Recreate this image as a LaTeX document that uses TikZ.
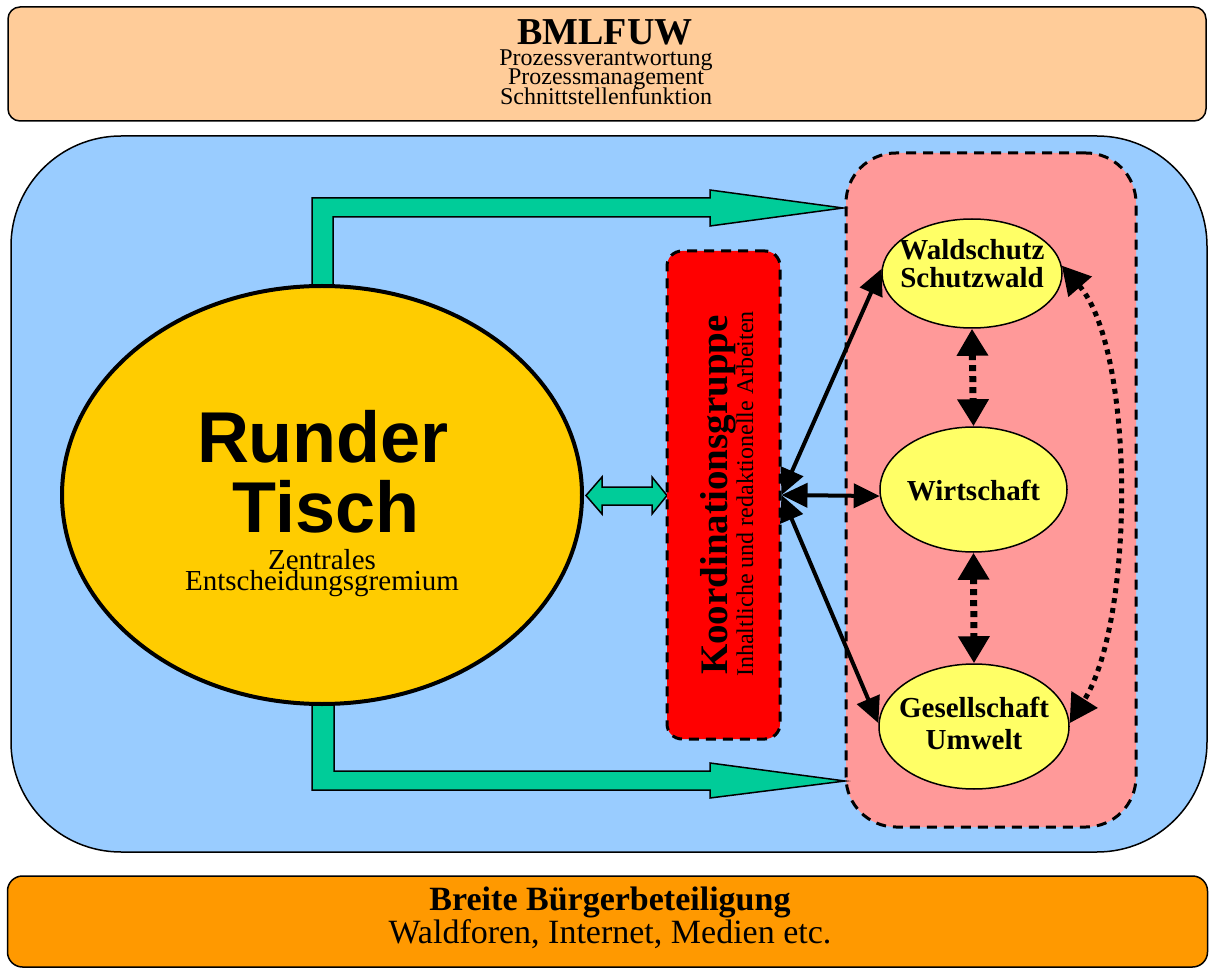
\documentclass[tikz,border=0pt]{standalone}
\usepackage{fontspec}
\setmainfont{Liberation Serif}
\newfontfamily\arialfont{Liberation Sans}
\usetikzlibrary{arrows.meta,shapes.geometric}
\definecolor{peach}{HTML}{FFCC99}
\definecolor{skyblue}{HTML}{99CCFF}
\definecolor{gold}{HTML}{FFCC00}
\definecolor{mint}{HTML}{00CC99}
\definecolor{kgred}{HTML}{FF0000}
\definecolor{rose}{HTML}{FF9999}
\definecolor{lightyellow}{HTML}{FFFF66}
\definecolor{orangebox}{HTML}{FF9900}
\begin{document}
\begin{tikzpicture}[x=1pt,y=-1pt,
  box/.style={draw=black, line width=1.5pt, rectangle, inner sep=0pt},
  dashbox/.style={draw=black, line width=3pt, dash pattern=on 10pt off 7pt, rectangle, inner sep=0pt},
  txt/.style={anchor=base, inner sep=0pt},
  ell/.style={ellipse, draw=black, line width=1.5pt, fill=lightyellow, inner sep=0pt},
  elltxt/.style={anchor=base, inner sep=0pt, font=\fontsize{29pt}{29pt}\selectfont\bfseries},
  blockarrow/.style={draw=black, line width=1.5pt, fill=mint, line join=miter},
  blk/.style={line width=4pt, >={Triangle[length=26pt,width=24pt]}, <->},
  dotarrow/.style={line width=7pt, dash pattern=on 6pt off 5pt, >={Triangle[length=27pt,width=30pt]}, <->},
  curvarrow/.style={line width=5pt, dash pattern=on 5pt off 5pt, >={Triangle[length=28pt,width=30pt]}, <->}
]
\useasboundingbox (0,0) rectangle (1211,968);

% top box
\node[box, rounded corners=12pt, fill=peach, minimum width=1198pt, minimum height=114pt] (bml) at (607,64) {};
\node[txt, font=\fontsize{38pt}{38pt}\selectfont\bfseries] (bmltitle) at (605,45) {BMLFUW};
\node[txt, font=\fontsize{24pt}{24pt}\selectfont] (bml1) at (606,66) {Prozessverantwortung};
\node[txt, font=\fontsize{24pt}{24pt}\selectfont] (bml2) at (606,85) {Prozessmanagement};
\node[txt, font=\fontsize{24pt}{24pt}\selectfont] (bml3) at (606,105) {Schnittstellenfunktion};

% main blue area
\node[box, rounded corners=110pt, fill=skyblue, minimum width=1196pt, minimum height=716pt] (main) at (609,494) {};

% pink group
\node[dashbox, rounded corners=50pt, fill=rose, minimum width=290pt, minimum height=674pt] (grp) at (991,490) {};

% green L arrows
\draw[blockarrow] (312,330) -- (312,198) -- (710,198) -- (710,190) -- (843,208)
  -- (710,226) -- (710,217) -- (333,217) -- (333,330) -- cycle;
\draw[blockarrow] (312,660) -- (312,790) -- (710,790) -- (710,798) -- (845,781)
  -- (710,763) -- (710,771) -- (334,771) -- (334,660) -- cycle;

% Runder Tisch
\node[ellipse, draw=black, line width=4pt, fill=gold, minimum width=520pt, minimum height=418pt, inner sep=0pt] (rt) at (322,495) {};
\node[txt, font=\fontsize{72pt}{72pt}\selectfont\arialfont\bfseries] (rt1) at (323,462) {Runder};
\node[txt, font=\fontsize{72pt}{72pt}\selectfont\arialfont\bfseries] (rt2) at (326,532) {Tisch};
\node[txt, font=\fontsize{29pt}{29pt}\selectfont] (rt3) at (322,569) {Zentrales};
\node[txt, font=\fontsize{29pt}{29pt}\selectfont] (rt4) at (322,590) {Entscheidungsgremium};

% small double arrow
\draw[blockarrow] (586,495.5) -- (602,477) -- (602,487) -- (652,487) -- (652,477) -- (667,495.5)
  -- (652,514) -- (652,505) -- (602,505) -- (602,514) -- cycle;

% Koordinationsgruppe
\node[dashbox, rounded corners=15pt, fill=kgred, minimum width=113pt, minimum height=488pt] (kg) at (723.5,495) {};
\node[txt, rotate=90, font=\fontsize{39pt}{39pt}\selectfont\bfseries] (kg1) at (727,495) {Koordinationsgruppe};
\node[txt, rotate=90, font=\fontsize{24pt}{24pt}\selectfont] (kg2) at (753,494) {Inhaltliche und redaktionelle Arbeiten};

% yellow ellipses
\node[ell, minimum width=180pt, minimum height=109pt] (ws) at (972,273.5) {};
\node[elltxt] (ws1) at (972,260) {Waldschutz};
\node[elltxt] (ws2) at (972,288) {Schutzwald};
\node[ell, minimum width=187pt, minimum height=125pt] (wi) at (973.5,489.5) {};
\node[elltxt] (wi1) at (973.5,500) {Wirtschaft};
\node[ell, minimum width=190pt, minimum height=125pt] (ge) at (974,726.5) {};
\node[elltxt] (ge1) at (974,717) {Gesellschaft};
\node[elltxt] (ge2) at (974,749) {Umwelt};

% connectors
\draw[blk] (kg.east) -- (ws.177);
\draw[blk] (kg.east) -- (wi.184);
\draw[blk] (kg.east) -- (ge.178);
\draw[dotarrow] (ws.south) -- (wi.north);
\draw[dotarrow] (wi.south) -- (ge.north);
\draw[curvarrow] (ws.5) .. controls (1135,350) and (1135,620) .. (ge.2);

% bottom box
\node[box, rounded corners=15pt, fill=orangebox, minimum width=1200pt, minimum height=91pt] (bb) at (607.5,921.5) {};
\node[txt, font=\fontsize{34pt}{34pt}\selectfont\bfseries] (bb1) at (610,910) {Breite Bürgerbeteiligung};
\node[txt, font=\fontsize{34pt}{34pt}\selectfont] (bb2) at (610,943) {Waldforen, Internet, Medien etc.};
\end{tikzpicture}
\end{document}
